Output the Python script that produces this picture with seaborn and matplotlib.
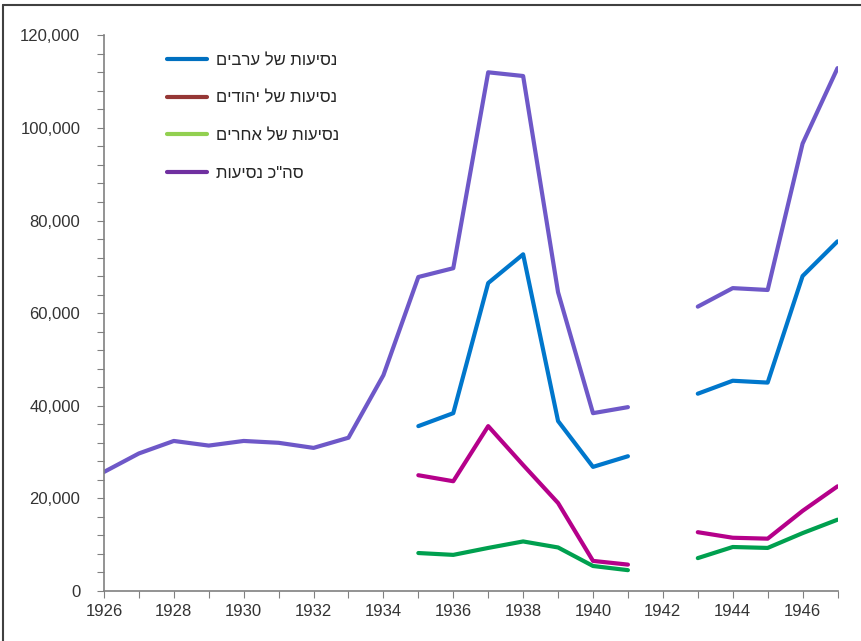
import numpy as np
import pandas as pd
import matplotlib.pyplot as plt
from matplotlib.lines import Line2D
from matplotlib.ticker import FuncFormatter
import seaborn as sns

# data (1942 missing)
years = list(range(1926, 1948))
arabs = [np.nan] * 9 + [35600, 38400, 66500, 72700, 36700, 26800, 29100, np.nan,
                        42600, 45400, 45000, 68000, 75500]
jews = [np.nan] * 9 + [25000, 23700, 35600, 27200, 19000, 6500, 5700, np.nan,
                       12700, 11500, 11300, 17300, 22600]
others = [np.nan] * 9 + [8200, 7800, 9300, 10700, 9400, 5400, 4500, np.nan,
                         7100, 9500, 9300, 12500, 15400]
total = [25700, 29700, 32400, 31400, 32400, 32000, 30900, 33100, 46600, 67800, 69700,
         112000, 111200, 64500, 38400, 39700, np.nan, 61400, 65400, 65000, 96600, 112900]

labels = ["נסיעות של ערבים", "נסיעות של יהודים", "נסיעות של אחרים", "סה\"כ נסיעות"]
line_colors = ["#0077cc", "#b5008a", "#00a04f", "#6e58c8"]
legend_colors = ["#0070c0", "#953735", "#92d050", "#7030a0"]

rows = []
for name, vals in zip(labels, [arabs, jews, others, total]):
    for y, v in zip(years, vals):
        if not np.isnan(v):
            rows.append({"year": y, "value": v, "series": name,
                         "segment": 0 if y < 1942 else 1})
df = pd.DataFrame(rows)

sns.set_style("white")
plt.rcParams["font.family"] = ["Liberation Sans", "DejaVu Sans"]

fig = plt.figure(figsize=(8.62, 6.41), dpi=100)
ax = fig.add_axes([0.1206, 0.078, 0.851, 0.867])

sns.lineplot(data=df, x="year", y="value", hue="series", units="segment",
             estimator=None, palette=dict(zip(labels, line_colors)),
             hue_order=labels, linewidth=3, legend=False, ax=ax)

ax.set_xlim(1926, 1947)
ax.set_ylim(0, 120000)
ax.set_xticks(years)
ax.set_xticklabels([str(y) if y % 2 == 0 else "" for y in years], fontsize=12)
ax.set_yticks(range(0, 120001, 4000))
ax.yaxis.set_major_formatter(FuncFormatter(lambda v, p: f"{int(v):,}" if v % 20000 == 0 else ""))
ax.tick_params(axis="y", labelsize=12, colors="#333333", length=5, direction="out", pad=12)
ax.tick_params(axis="x", colors="#333333", length=5, direction="out", pad=4)
ax.tick_params(which="both", left=True, bottom=True, color="#808080")
ax.set_xlabel("")
ax.set_ylabel("")
for s in ["top", "right"]:
    ax.spines[s].set_visible(False)
for s in ["left", "bottom"]:
    ax.spines[s].set_color("#808080")
    ax.spines[s].set_linewidth(1.2)

handles = [Line2D([], [], color=c, lw=3) for c in legend_colors]
ax.legend(handles, [t[::-1] for t in labels], loc="upper left",
          bbox_to_anchor=(0.065, 0.995), frameon=False, fontsize=12,
          labelspacing=1.35, handlelength=2.4, handletextpad=0.55)

# outer frame (left and top visible in the reference)
fig.add_artist(Line2D([3 / 862, 3 / 862], [0, 1 - 5 / 641], color="#404040", lw=1.5))
fig.add_artist(Line2D([3 / 862, 1], [1 - 5 / 641, 1 - 5 / 641], color="#404040", lw=1.5))

fig.savefig("out.png", dpi=100)
